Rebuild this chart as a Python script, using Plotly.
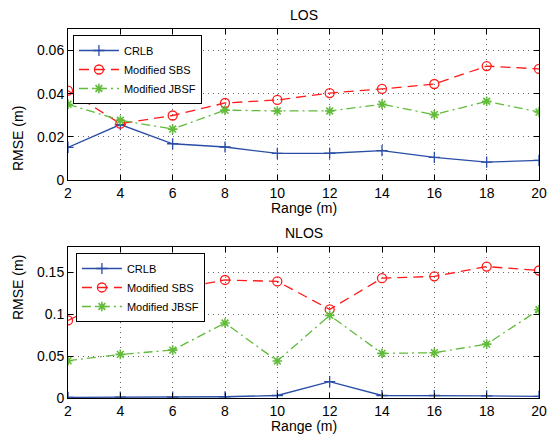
import plotly.graph_objects as go

ranges = [2, 4, 6, 8, 10, 12, 14, 16, 18, 20]

los_crlb = [0.0151, 0.0257, 0.0168, 0.0153, 0.0123, 0.0124, 0.0136, 0.0105, 0.0083, 0.0091]
los_sbs = [0.0414, 0.0261, 0.0299, 0.0357, 0.0371, 0.0403, 0.0422, 0.0445, 0.0528, 0.0515]
los_jbsf = [0.0351, 0.0277, 0.0236, 0.0324, 0.0320, 0.0320, 0.0351, 0.0303, 0.0365, 0.0315]

nlos_crlb = [0.0008, 0.0010, 0.0010, 0.0015, 0.0030, 0.0195, 0.0030, 0.0030, 0.0025, 0.0020]
nlos_sbs = [0.0925, 0.1230, 0.1290, 0.1407, 0.1390, 0.1056, 0.1428, 0.1450, 0.1567, 0.1520]
nlos_jbsf = [0.0445, 0.0520, 0.0571, 0.0894, 0.0441, 0.0985, 0.0532, 0.0540, 0.0642, 0.1052]

series_names = ["CRLB", "Modified SBS", "Modified JBSF"]
subplot_titles = ["LOS", "NLOS"]

BLUE = "#2a4ea6"
RED = "#ff1a1a"
GREEN = "#62bb3a"
FONT = "Liberation Sans, Arial, sans-serif"

fig = go.Figure()

def add_series(xa, ya, leg, crlb, sbs, jbsf):
    fig.add_trace(go.Scatter(x=ranges, y=crlb, name=series_names[0], mode="lines+markers",
                             line=dict(color=BLUE, width=1.3),
                             marker=dict(symbol="cross-thin", size=8, color=BLUE,
                                         line=dict(color=BLUE, width=1.3)),
                             xaxis=xa, yaxis=ya, legend=leg))
    fig.add_trace(go.Scatter(x=ranges, y=sbs, name=series_names[1], mode="lines+markers",
                             line=dict(color=RED, width=1.3, dash="10px,6px"),
                             marker=dict(symbol="circle-open", size=9, color=RED,
                                         line=dict(color=RED, width=1.3)),
                             xaxis=xa, yaxis=ya, legend=leg))
    fig.add_trace(go.Scatter(x=ranges, y=jbsf, name=series_names[2], mode="lines+markers",
                             line=dict(color=GREEN, width=1.3, dash="9px,4px,2px,4px"),
                             marker=dict(symbol="asterisk-open", size=8, color=GREEN,
                                         line=dict(color=GREEN, width=1.6)),
                             xaxis=xa, yaxis=ya, legend=leg))

add_series("x", "y", "legend", los_crlb, los_sbs, los_jbsf)
add_series("x2", "y2", "legend2", nlos_crlb, nlos_sbs, nlos_jbsf)

axis_common = dict(showline=True, linecolor="black", linewidth=1, mirror="allticks",
                   ticks="inside", ticklen=5, tickcolor="black",
                   showgrid=True, gridcolor="#666666", griddash="1px,4px", gridwidth=1,
                   zeroline=False, tickfont=dict(family=FONT, size=14, color="black"))

top_dom = [0.5908, 1.0]
bot_dom = [0.0, 0.4092]

legend_common = dict(xanchor="left", yanchor="top", bordercolor="black", borderwidth=1,
                     bgcolor="white", font=dict(family=FONT, size=11), tracegroupgap=0,
                     itemwidth=40)

fig.update_layout(
    width=551, height=433,
    margin=dict(l=60, r=14, t=21, b=43),
    paper_bgcolor="white", plot_bgcolor="white",
    font=dict(family=FONT, color="black"),
    xaxis=dict(domain=[0, 1], anchor="y", range=[2, 20], dtick=2, **axis_common),
    yaxis=dict(domain=top_dom, anchor="x", range=[0, 0.07], tickvals=[0, 0.02, 0.04, 0.06],
               ticktext=["0", "0.02", "0.04", "0.06"], **axis_common),
    xaxis2=dict(domain=[0, 1], anchor="y2", range=[2, 20], dtick=2, **axis_common),
    yaxis2=dict(domain=bot_dom, anchor="x2", range=[0, 0.18], tickvals=[0, 0.05, 0.1, 0.15],
                ticktext=["0", "0.05", "0.1", "0.15"], **axis_common),
    legend=dict(x=0.0105, y=0.9837, **legend_common),
    legend2=dict(x=0.0168, y=0.393, **legend_common),
    showlegend=True,
)

annots = [
    dict(text=subplot_titles[0], x=0.5, y=1.0, yshift=4, xref="paper", yref="paper",
         showarrow=False, font=dict(family=FONT, size=14), yanchor="bottom"),
    dict(text=subplot_titles[1], x=0.5, y=0.4092, yshift=4, xref="paper", yref="paper",
         showarrow=False, font=dict(family=FONT, size=14), yanchor="bottom"),
    dict(text="Range (m)", x=0.5, y=0.5908, yshift=-18, xref="paper", yref="paper",
         showarrow=False, font=dict(family=FONT, size=14), yanchor="top"),
    dict(text="Range (m)", x=0.5, y=0.0, yshift=-18, xref="paper", yref="paper",
         showarrow=False, font=dict(family=FONT, size=14), yanchor="top"),
    dict(text="RMSE (m)", x=0, xshift=-50, y=0.7954, xref="paper", yref="paper",
         showarrow=False, font=dict(family=FONT, size=14), textangle=-90, xanchor="center"),
    dict(text="RMSE (m)", x=0, xshift=-50, y=0.2046, xref="paper", yref="paper",
         showarrow=False, font=dict(family=FONT, size=14), textangle=-90, xanchor="center"),
]
fig.update_layout(annotations=annots)

fig.write_html("out.html")
